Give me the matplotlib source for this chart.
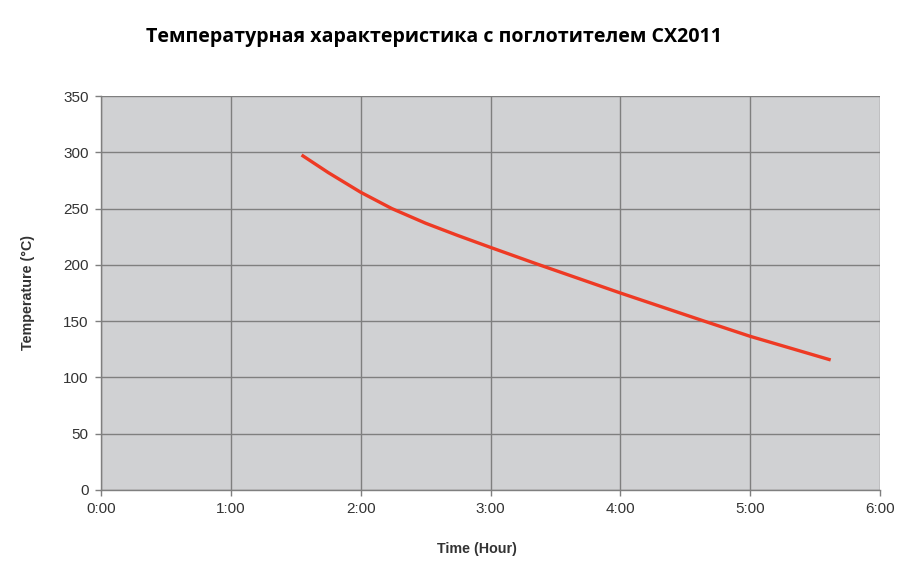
"""Temperature curve with CX2011 absorber."""

import matplotlib
matplotlib.use("Agg")
import matplotlib.pyplot as plt

TITLE = "Температурная характеристика с поглотителем CX2011"

# hours vs temperature (°C)
hours = [1.545, 1.75, 2.0, 2.24, 2.5, 2.75, 3.0, 3.364, 4.0, 4.646, 5.0, 5.62]
temps = [297.6, 282.0, 264.5, 250.0, 237.0, 226.0, 215.5, 200.5, 175.0, 150.0, 136.5, 115.5]

x_ticks = [0, 1, 2, 3, 4, 5, 6]
x_tick_labels = ["0:00", "1:00", "2:00", "3:00", "4:00", "5:00", "6:00"]
y_ticks = [0, 50, 100, 150, 200, 250, 300, 350]


def main() -> None:
    fig = plt.figure(figsize=(9.13, 5.84), dpi=100)
    ax = fig.add_axes([0.1106, 0.161, 0.8533, 0.6746])
    ax.set_facecolor("#d0d1d3")

    ax.plot(hours, temps, color="#ee3a24", linewidth=2.4,
            solid_capstyle="butt", solid_joinstyle="round", zorder=3)

    ax.set_xlim(0, 6)
    ax.set_ylim(0, 350)
    ax.set_xticks(x_ticks)
    ax.set_xticklabels(x_tick_labels)
    ax.set_yticks(y_ticks)
    ax.grid(True, color="#7f7f7f", linewidth=1.0)
    ax.set_axisbelow(True)

    for side in ("top", "right"):
        ax.spines[side].set_visible(False)
    for side in ("left", "bottom"):
        ax.spines[side].set_color("#7f7f7f")
        ax.spines[side].set_linewidth(1.0)

    ax.tick_params(axis="both", colors="#7f7f7f", length=4, width=1.0,
                   labelcolor="#333333", labelsize=11)
    ax.tick_params(axis="x", pad=4.5)
    ax.tick_params(axis="y", pad=5)
    for lbl in ax.get_xticklabels() + ax.get_yticklabels():
        lbl.set_family("Liberation Sans")

    fig.text(0.0307, 0.5, "Temperature (°C)", rotation=90, ha="center", va="center",
             fontsize=10.3, fontweight="bold", family="Liberation Sans", color="#333333")
    fig.text(0.5225, 0.06, "Time (Hour)", ha="center", va="center",
             fontsize=10.3, fontweight="bold", family="Liberation Sans", color="#333333")
    fig.text(0.4753, 0.937, TITLE, ha="center", va="center",
             fontsize=14.1, fontweight="bold", family="Open Sans", color="black")

    fig.savefig("out.png", dpi=100)
    plt.close(fig)


if __name__ == "__main__":
    main()
